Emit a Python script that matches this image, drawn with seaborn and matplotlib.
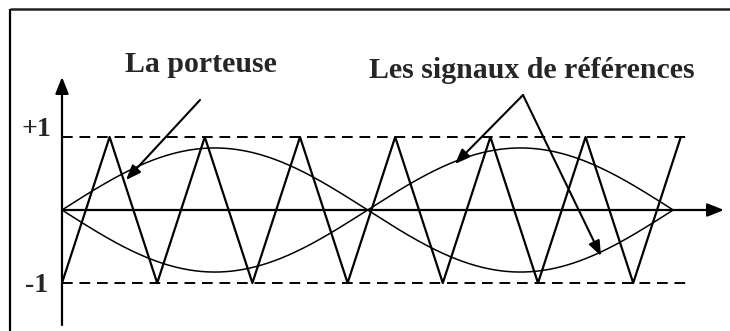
import numpy as np
import pandas as pd
import matplotlib.pyplot as plt
import seaborn as sns

# carrier (triangle) vertices, time in carrier periods
carrier_t = [0.0, 0.5, 1.0, 1.5, 2.0, 2.5, 3.0, 3.5, 4.0, 4.5, 5.0, 5.5, 6.0, 6.5]
carrier_v = [-1, 1, -1, 1, -1, 1, -1, 1, -1, 1, -1, 1, -1, 1]

# reference signals: amplitude and end of one period
ref_amplitude = 0.85
ref_period = 6.42
ref_samples = 400

level_labels = ["+1", "-1"]
label_carrier = "La porteuse"
label_refs = "Les signaux de références"

sns.set_style("white")
plt.rcParams['font.family'] = ['Liberation Serif', 'DejaVu Serif']

fig = plt.figure(figsize=(7.3, 3.31), dpi=100)
ax = fig.add_axes([0, 0, 1, 1])

# pixel -> data: x = 62 + t*95.2, y = 210 - v*73
sx, ox = 95.2, 62
sy, oy = 73, 210
ax.set_xlim(-ox / sx, (730 - ox) / sx)
ax.set_ylim((oy - 331) / sy, oy / sy)
ax.axis('off')

def px(x):
    return (x - ox) / sx

def py(y):
    return (oy - y) / sy

# frame (top and left edges only)
ax.plot([px(10), px(10)], [py(9), py(331)], color='black', lw=1.6, solid_capstyle='butt')
ax.plot([px(10), px(730)], [py(9), py(9)], color='#222222', lw=1.8, solid_capstyle='butt')

# dashed +1 / -1 levels
for lv in [1, -1]:
    ax.plot([0, px(687)], [lv, lv], color='black', lw=1.4, dashes=(5.5, 3.5))

# carrier
carrier = pd.DataFrame({"t": carrier_t, "v": carrier_v})
sns.lineplot(data=carrier, x="t", y="v", ax=ax, color='black', lw=1.6, sort=False)

# reference signals
t = np.linspace(0, ref_period, ref_samples)
refs = pd.DataFrame({
    "t": np.concatenate([t, t]),
    "v": np.concatenate([ref_amplitude * np.sin(2 * np.pi * t / ref_period),
                         -ref_amplitude * np.sin(2 * np.pi * t / ref_period)]),
    "s": ["a"] * ref_samples + ["b"] * ref_samples,
})
sns.lineplot(data=refs, x="t", y="v", units="s", estimator=None, ax=ax,
             color='black', lw=1.1)

# axes with arrows
ax.annotate("", xy=(0, py(77)), xytext=(0, py(325)),
            arrowprops=dict(arrowstyle="-|>,head_length=1.0,head_width=0.4",
                            color='black', lw=1.6, shrinkA=0, shrinkB=0))
ax.annotate("", xy=(px(724), 0), xytext=(0, 0),
            arrowprops=dict(arrowstyle="-|>,head_length=1.0,head_width=0.4",
                            color='black', lw=1.6, shrinkA=0, shrinkB=0))

# level labels
ax.text(px(51), py(129), level_labels[0], ha='right', va='center', fontsize=20, fontweight='bold')
ax.text(px(48), py(286), level_labels[1], ha='right', va='center', fontsize=20, fontweight='bold')

# annotations
arrow_kw = dict(arrowstyle="-|>,head_length=0.9,head_width=0.35", color='black', lw=1.5,
                shrinkA=0, shrinkB=0)
ax.text(px(201), py(72), label_carrier, ha='center', va='baseline', fontsize=21.5, fontweight='bold')
ax.annotate("", xy=(px(126), py(180)), xytext=(px(200), py(100)), arrowprops=arrow_kw)

ax.text(px(532), py(78), label_refs, ha='center', va='baseline', fontsize=21.5, fontweight='bold')
ax.annotate("", xy=(px(455), py(164)), xytext=(px(523), py(95)), arrowprops=arrow_kw)
ax.annotate("", xy=(px(601), py(256)), xytext=(px(523), py(95)), arrowprops=arrow_kw)

fig.savefig("out.png", dpi=100)
